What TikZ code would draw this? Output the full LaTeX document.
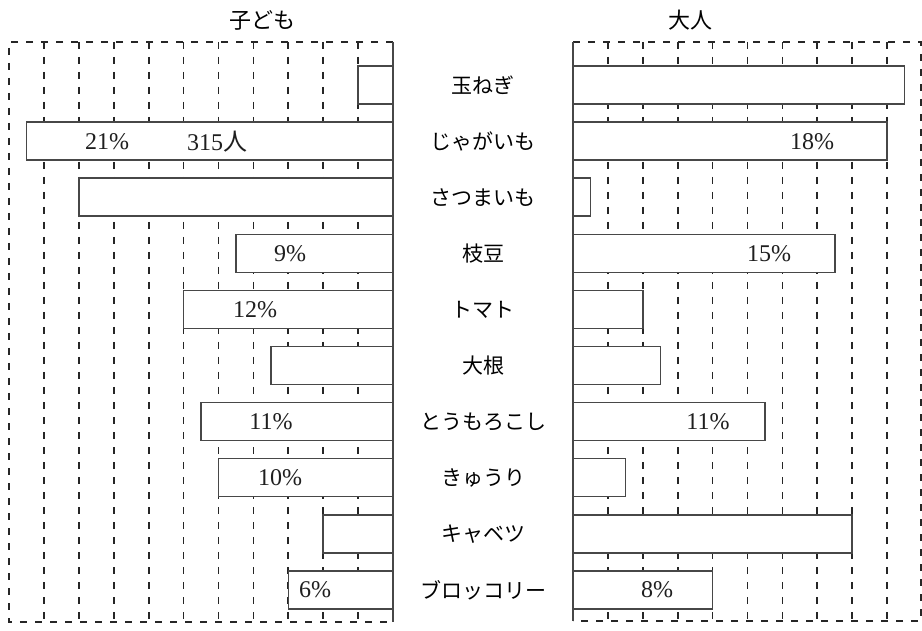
\documentclass[tikz,border=0pt]{standalone}
\usepackage{fontspec}
\setmainfont{Liberation Serif}
\newfontfamily\cjk{Noto Sans CJK JP}
\begin{document}
\begin{tikzpicture}[x=1pt,y=-1pt,
  ln/.style={draw=black!72,line width=1.5pt},
  gridln/.style={draw=black!85,line width=1.7pt,dash pattern=on 7pt off 8pt},
  barbox/.style={ln,fill=white},
  lab/.style={font=\cjk\fontsize{21}{21}\selectfont,text=black,inner sep=0pt},
  ttl/.style={font=\cjk\fontsize{22}{22}\selectfont,text=black,inner sep=0pt},
  pct/.style={font=\fontsize{24}{24}\selectfont,text=black!88,inner sep=0pt}]
\fill[white] (0,0) rectangle (922,631);
\useasboundingbox (0,0) rectangle (922,631);
% ---------- left chart (children) ----------
\foreach \k in {1,...,10}
  \draw[gridln] ({393-34.9*\k},42) -- ({393-34.9*\k},622);
\draw[gridln] (393,42) -- (9,42) -- (9,622) -- (393,622);
\foreach \v [count=\i from 0] in {2,21,18,9,12,7,11,10,4,6}
  \draw[barbox] ({393-17.45*\v},{85+56.1*\i-19}) rectangle (393,{85+56.1*\i+19});
\draw[ln] (393,42) -- (393,622);
% ---------- right chart (adults) ----------
\foreach \k in {1,...,9}
  \draw[gridln] ({573+34.9*\k},42) -- ({573+34.9*\k},621);
\draw[gridln] (573,42) -- (921,42) -- (921,621) -- (573,621);
\foreach \v [count=\i from 0] in {19,18,1,15,4,5,11,3,16,8}
  \draw[barbox] (573,{85+56.1*\i-19}) rectangle ({573+17.45*\v},{85+56.1*\i+19});
\draw[ln] (573,42) -- (573,621);
% ---------- titles ----------
\node[ttl] (tc) at (262,20) {子ども};
\node[ttl] (ta) at (690,20) {大人};
% ---------- category labels ----------
\foreach \t [count=\i from 0] in {玉ねぎ,じゃがいも,さつまいも,枝豆,トマト,大根,とうもろこし,きゅうり,キャベツ,ブロッコリー}
  \node[lab] (c\i) at (483,{85+56.1*\i}) {\t};
% ---------- value labels ----------
\node[pct] (p1) at (107,142.1) {21\%};
\node[pct] (n1) at (217,142.1) {315{\cjk 人}};
\node[pct] (p3) at (290,253.3) {9\%};
\node[pct] (p4) at (255,309.4) {12\%};
\node[pct] (p6) at (271,421.6) {11\%};
\node[pct] (p7) at (280,477.7) {10\%};
\node[pct] (p9) at (315,589.9) {6\%};
\node[pct] (q1) at (812,142.1) {18\%};
\node[pct] (q3) at (769,253.3) {15\%};
\node[pct] (q6) at (708,421.6) {11\%};
\node[pct] (q9) at (657,589.9) {8\%};
\end{tikzpicture}
\end{document}
